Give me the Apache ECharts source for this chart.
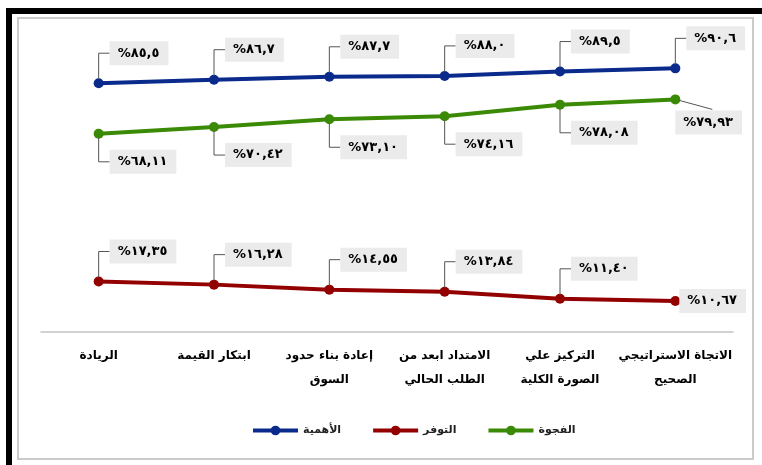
<!DOCTYPE html>
<html>
<head>
<meta charset="utf-8">
<script src="https://cdn.jsdelivr.net/npm/echarts@6/dist/echarts.min.js"></script>
<style>
  html, body { margin: 0; padding: 0; background: #fff; }
  #chart { width: 762px; height: 465px; }
</style>
</head>
<body>
<div id="chart"></div>
<script>
// Categories, left to right
const categories = [
  'الريادة',
  'ابتكار القيمة',
  'إعادة بناء حدود\nالسوق',
  'الامتداد ابعد من\nالطلب الحالي',
  'التركيز علي\nالصورة الكلية',
  'الاتجاة الاستراتيجي\nالصحيح'
];

// Series values (%)
const seriesNames = ['الأهمية', 'التوفر', 'الفجوة'];
const importance = [85.5, 86.7, 87.7, 88.0, 89.5, 90.6];
const availability = [17.35, 16.28, 14.55, 13.84, 11.40, 10.67];
const gap = [68.11, 70.42, 73.10, 74.16, 78.08, 79.93];

const colors = { importance: '#0a2a8c', availability: '#930000', gap: '#3b8a06' };

const arabicDigits = '٠١٢٣٤٥٦٧٨٩';
function toArabic(str) {
  return str.replace(/[0-9]/g, d => arabicDigits[+d]).replace('.', ',');
}

// Callout label series: gray box + elbow leader line
function calloutSeries(values, decimals, placement, lastPlacement) {
  const n = values.length;
  return {
    type: 'custom',
    silent: true,
    z: 10,
    data: values.map((v, i) => [i, v]),
    encode: { x: 0, y: 1 },
    renderItem: function (params, api) {
      const v = api.value(1);
      const p = api.coord([api.value(0), v]);
      const mode = params.dataIndex === n - 1 && lastPlacement ? lastPlacement : placement;
      const text = '%' + toArabic(v.toFixed(decimals));
      let bx, by, pts = null;
      if (mode === 'above' || mode === 'below') {
        const dy = mode === 'above' ? -30 : 28;
        by = p[1] + dy;
        bx = p[0] + 11;
        pts = [[p[0], p[1] + (dy < 0 ? -4 : 4)], [p[0], by], [bx, by]];
      } else if (mode === 'diag') {
        bx = p[0];
        by = p[1] + 23;
        pts = [[p[0] + 4, p[1] + 1], [p[0] + 37, p[1] + 10]];
      } else {
        bx = p[0] + 4;
        by = p[1];
      }
      const children = [];
      if (pts) {
        children.push({
          type: 'polyline',
          shape: { points: pts },
          style: { stroke: '#555', lineWidth: 1, fill: null }
        });
      }
      children.push({
        type: 'text',
        style: {
          x: bx, y: by,
          text: text,
          fill: '#000',
          font: 'bold 13px "DejaVu Sans", sans-serif',
          align: 'left',
          verticalAlign: 'middle',
          backgroundColor: '#ebebeb',
          padding: [6, 9, 5, 8]
        }
      });
      return { type: 'group', children: children };
    }
  };
}

function lineSeries(name, values, color) {
  return {
    name: name,
    type: 'line',
    data: values,
    symbol: 'circle',
    symbolSize: 10,
    lineStyle: { color: color, width: 4 },
    itemStyle: { color: color },
    z: 3
  };
}

const chart = echarts.init(document.getElementById('chart'), null, { renderer: 'canvas' });
chart.setOption({
  animation: false,
  backgroundColor: '#fff',
  graphic: [
    { type: 'rect', shape: { x: 6, y: 8, width: 756, height: 6 }, style: { fill: '#000' } },
    { type: 'rect', shape: { x: 6, y: 8, width: 6, height: 457 }, style: { fill: '#000' } },
    { type: 'rect', shape: { x: 18, y: 18, width: 735, height: 441 }, style: { fill: null, stroke: '#cbcbcb', lineWidth: 2 } }
  ],
  grid: { left: 41, right: 29, top: 41, bottom: 133 },
  legend: {
    data: seriesNames,
    left: 246,
    top: 420,
    itemWidth: 45,
    itemHeight: 12,
    itemGap: 30,
    lineStyle: { width: 4 },
    textStyle: { fontFamily: '"DejaVu Sans", sans-serif', fontWeight: 'bold', fontSize: 11, color: '#222' }
  },
  xAxis: {
    type: 'category',
    data: categories,
    boundaryGap: true,
    axisTick: { show: false },
    axisLine: { lineStyle: { color: '#c4c4c4', width: 1.5 } },
    axisLabel: {
      interval: 0,
      margin: 12,
      lineHeight: 24,
      fontSize: 12,
      fontWeight: 'bold',
      fontFamily: '"DejaVu Sans", sans-serif',
      color: '#000'
    }
  },
  yAxis: { type: 'value', min: 0, max: 100, show: false },
  series: [
    lineSeries(seriesNames[0], importance, colors.importance),
    lineSeries(seriesNames[1], availability, colors.availability),
    lineSeries(seriesNames[2], gap, colors.gap),
    calloutSeries(importance, 1, 'above', null),
    calloutSeries(availability, 2, 'above', 'right'),
    calloutSeries(gap, 2, 'below', 'diag')
  ]
});
</script>
</body>
</html>
